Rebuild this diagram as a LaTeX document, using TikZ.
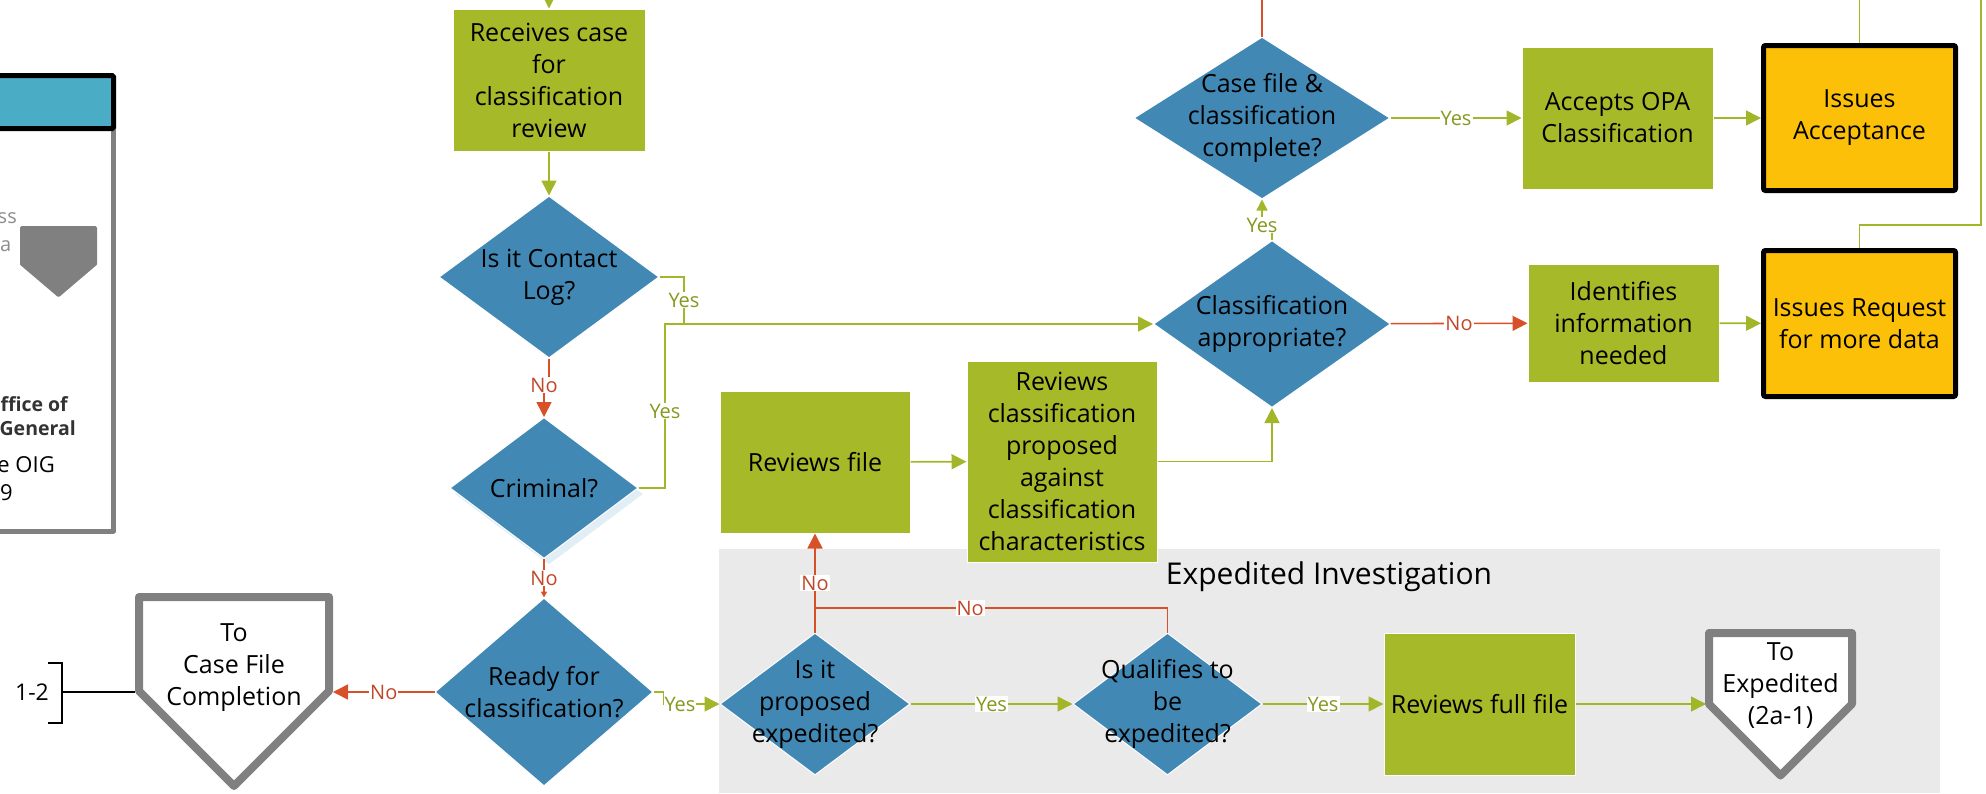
\documentclass[tikz,border=0pt]{standalone}
\usepackage{fontspec}
\setmainfont{Open Sans}
\usetikzlibrary{arrows.meta,shapes.geometric,shadows}

\definecolor{boxgreen}{RGB}{166,185,41}
\definecolor{diablue}{RGB}{66,136,180}
\definecolor{issorange}{RGB}{252,192,9}
\definecolor{lnred}{RGB}{216,80,40}
\definecolor{txtred}{RGB}{192,72,40}
\definecolor{lngreen}{RGB}{163,182,42}
\definecolor{txtgreen}{RGB}{134,152,30}
\definecolor{areagray}{RGB}{234,234,234}
\definecolor{framegray}{RGB}{128,128,128}
\definecolor{headteal}{RGB}{75,172,198}
\definecolor{shadeblue}{RGB}{226,238,245}
\definecolor{fadetxt}{RGB}{140,140,140}

\newcommand\txtmain{\fontsize{25}{32}\selectfont}
\newcommand\txtlab{\fontsize{20}{24}\selectfont}
\newcommand\txttitle{\fontsize{30}{36}\selectfont}

\tikzset{
  procbox/.style={fill=boxgreen, draw=white, line width=1pt, inner sep=0pt, align=center, font=\txtmain},
  issuebox/.style={fill=issorange, draw=black, line width=5pt, rounded corners=2pt, inner sep=0pt, align=center, font=\txtmain},
  decision/.style={diamond, fill=diablue, draw=white, line width=1pt, inner sep=0pt},
  dtext/.style={align=center, font=\txtmain, inner sep=0pt},
  gline/.style={draw=lngreen, line width=1.6pt},
  garrow/.style={gline, -{Triangle[length=15pt,width=15pt]}},
  rline/.style={draw=lnred, line width=1.6pt},
  rarrow/.style={rline, -{Triangle[length=15pt,width=15pt]}},
  ylab/.style={fill=white, inner sep=1pt, text=txtgreen, font=\txtlab},
  nlab/.style={fill=white, inner sep=1pt, text=txtred, font=\txtlab},
  offpage/.style={draw=framegray, line width=8pt, fill=white, line join=round},
}

\begin{document}
\begin{tikzpicture}[x=1pt,y=-1pt]
\useasboundingbox (0,0) rectangle (1986,793);
\clip (0,0) rectangle (1986,793);

% expedited lane
\fill[areagray] (719,549) rectangle (1940,793);
\node[font=\txttitle, inner sep=0pt] (lane) at (1329,577) {Expedited Investigation};

% legend panel on the left
\draw[framegray, line width=5pt, line join=round] (113.5,128) -- (113.5,531) -- (-10,531);
\draw[fill=headteal, draw=black, line width=5pt, rounded corners=1.5pt] (-10,75.5) rectangle (113.5,128.5);
\node[anchor=east, inner sep=0pt, text=fadetxt, font=\fontsize{20}{24}\selectfont] (lg1) at (17,218) {ss};
\node[anchor=west, inner sep=0pt, text=fadetxt, font=\fontsize{20}{24}\selectfont] (lg2) at (0,246) {a};
\fill[framegray, draw=framegray, line width=3pt, line join=round]
  (21.5,227.5) -- (95.5,227.5) -- (95.5,264) -- (58.5,295.5) -- (21.5,264) -- cycle;
\node[anchor=east, inner sep=0pt, text=black!80, font=\fontsize{19.5}{24}\selectfont\bfseries] (lg3) at (68,404) {ffice of};
\node[anchor=east, inner sep=0pt, text=black!80, font=\fontsize{19.5}{24}\selectfont\bfseries] (lg4) at (76,428) {General};
\node[anchor=east, inner sep=0pt, font=\fontsize{22}{26}\selectfont] (lg5) at (55,465) {e OIG};
\node[anchor=east, inner sep=0pt, font=\fontsize{22}{26}\selectfont] (lg6) at (13,493) {9};

% off-page references
\draw[offpage] (139,597) -- (329,597) -- (329,691) -- (234,786) -- (139,691) -- cycle;
\node[font=\txtmain, align=center, inner sep=0pt] (tocf) at (234,668) {To\\Case File\\Completion};
\coordinate (tocf-in) at (333,692);
\coordinate (tocf-out) at (135,692);
\draw[offpage] (1709,633) -- (1852,633) -- (1852,704) -- (1780.5,775.5) -- (1709,704) -- cycle;
\node[font=\txtmain, align=center, inner sep=0pt] (toexp) at (1780.5,686) {To\\Expedited\\(2a-1)};
\coordinate (toexp-in) at (1706,704);

% bracket with step number
\coordinate (brk) at (62,692);
\draw[line width=1.5pt] (tocf-out) -- (brk);
\draw[line width=1.5pt] (48,663) -- (62,663) -- (62,723) -- (48,723);
\node[font=\fontsize{23}{26}\selectfont, inner sep=0pt] (step) at (32,692) {1-2};

% process boxes
\node[procbox, minimum width=192, minimum height=142] (recv) at (549,80) {Receives case\\for\\classification\\review};
\node[procbox, minimum width=190, minimum height=142] (rfile) at (815,462) {Reviews file};
\node[procbox, minimum width=190, minimum height=201] (rclass) at (1062,461.5) {Reviews\\classification\\proposed\\against\\classification\\characteristics};
\node[procbox, minimum width=191, minimum height=142] (accept) at (1617.5,118) {Accepts OPA\\Classification};
\node[procbox, minimum width=191, minimum height=118] (ident) at (1623.5,323) {Identifies\\information\\needed};
\node[procbox, minimum width=191, minimum height=142] (rfull) at (1479.5,704) {Reviews full file};
\node[issuebox, minimum width=192, minimum height=145] (issA) at (1859.5,118) {Issues\\Acceptance};
\node[issuebox, minimum width=192, minimum height=146] (issR) at (1859.5,323.5) {Issues Request\\for more data};

% decisions
\node[decision, minimum width=220, minimum height=162, label={[dtext]center:{Is it Contact\\Log?}}] (cl) at (549,277) {};
\node[decision, minimum width=188, minimum height=141,
      drop shadow={shadow xshift=5pt, shadow yshift=-6pt, fill=shadeblue, opacity=1, draw=none},
      label={[dtext]center:{Criminal?}}] (crim) at (544,488) {};
\node[decision, minimum width=218, minimum height=188, label={[dtext]center:{Ready for\\classification?}}] (ready) at (544,692) {};
\node[decision, minimum width=190, minimum height=142, label={[dtext]center:{Is it\\proposed\\expedited?}}] (prop) at (815,704) {};
\node[decision, minimum width=189, minimum height=142, label={[dtext]center:{Qualifies to\\be\\expedited?}}] (qual) at (1167.5,704) {};
\node[decision, minimum width=256, minimum height=162, label={[dtext]center:{Case file \&\\classification\\complete?}}] (cf) at (1262,118) {};
\node[decision, minimum width=237, minimum height=167, label={[dtext]center:{Classification\\appropriate?}}] (cls) at (1272,324) {};

% free ends and bends
\coordinate (inRecv) at (549,0);
\coordinate (inCF) at (1262,0);
\coordinate (outA) at (1859.5,0);
\coordinate (outR) at (1981,0);
\coordinate (bendR) at (1981,225);
\coordinate (jn) at (665,324);
\coordinate (clyes) at (684,324);
\coordinate (clno) at (544,385);
\coordinate (clsyes) at (1262,225);
\coordinate (pjn) at (815,608);

% connectors
\draw[garrow] (inRecv) -- (recv.north);
\draw[rline] (inCF) -- (cf.north);
\draw[gline] (issA.north) -- (outA);
\draw[gline] (outR) -- (bendR) -| (issR.north);
\draw[garrow] (recv) -- (cl);
\draw[rarrow] (cl.south) |- (clno) -- (crim.north);
\node[nlab] (nclcrim) at (clno) {No};
\draw[gline] (cl.east) -| (clyes);
\node[ylab] (ycl) at (684,300) {Yes};
\draw[garrow] (crim.east) -| (jn) -- (cls.west);
\node[ylab] (ycrim) at (665,411) {Yes};
\draw[rline, -{Triangle[length=6pt,width=6pt]}] (crim.south) -- node[nlab] {No} (ready.north);
\draw[rarrow] (ready.west) -- node[nlab] {No} (tocf-in);
\draw[garrow] (ready.east) -- ++(10,0) |- (prop.west);
\node[ylab] (yready) at (680,704) {Yes};
\draw[rarrow] (prop.north) -- node[nlab] {No} (rfile.south);
\draw[rline] (qual.north) |- node[nlab, pos=0.78] {No} (pjn);
\draw[garrow] (prop) -- node[ylab] {Yes} (qual);
\draw[garrow] (qual) -- node[ylab] {Yes} (rfull);
\draw[garrow] (rfull) -- (toexp-in);
\draw[garrow] (rfile) -- (rclass);
\draw[garrow] (rclass.east) -| (cls.south);
\draw[garrow, -{Triangle[length=11pt,width=11pt]}] (cls.north) |- (clsyes) -- (cf.south);
\node[ylab] (ycls) at (clsyes) {Yes};
\draw[garrow] (cf) -- node[ylab] {Yes} (accept);
\draw[garrow] (accept) -- (issA);
\draw[rarrow] (cls) -- node[nlab] {No} (ident);
\draw[garrow] (ident) -- (issR);
\end{tikzpicture}
\end{document}
